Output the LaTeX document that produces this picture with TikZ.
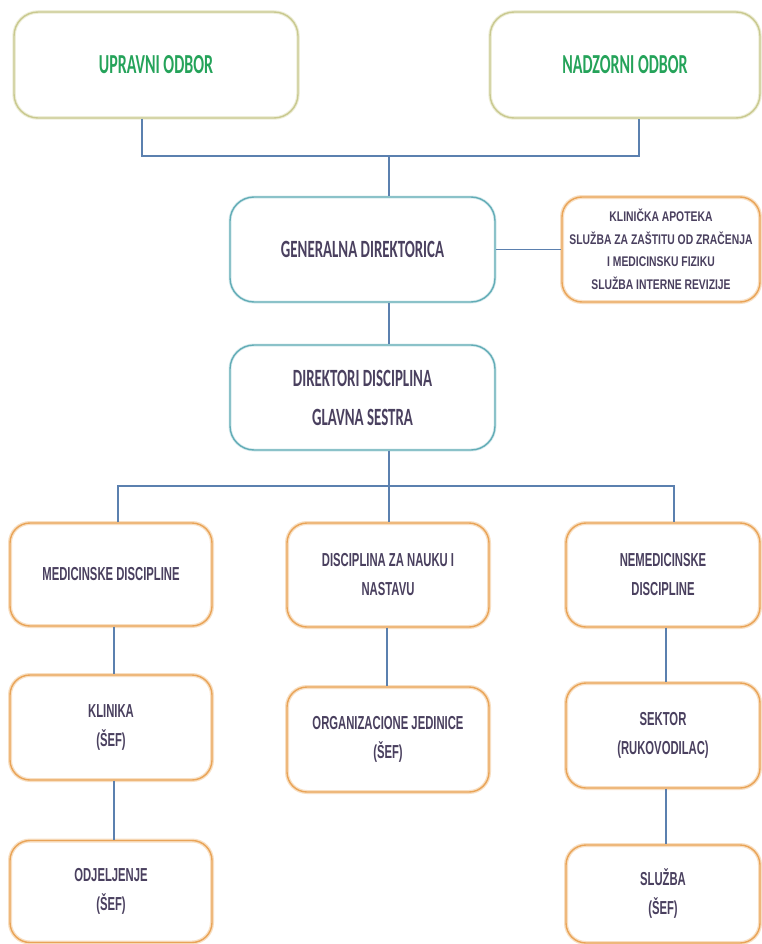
\documentclass[tikz,border=0pt]{standalone}
\usepackage{fontspec}
\newfontfamily\hdfont[FakeStretch=0.6]{Carlito}
\newfontfamily\tpfont[FakeStretch=0.58]{Carlito}
\newfontfamily\lofont[FakeStretch=0.6]{Liberation Sans}
\newfontfamily\sdfont[FakeStretch=0.74]{Liberation Sans}
\definecolor{olivebd}{HTML}{C9C98F}
\definecolor{olivegl}{HTML}{EEEED8}
\definecolor{tealbd}{HTML}{62ACB6}
\definecolor{tealgl}{HTML}{D8ECEF}
\definecolor{orangebd}{HTML}{E9A458}
\definecolor{orangegl}{HTML}{F8DFC2}
\definecolor{linec}{HTML}{5B80AF}
\definecolor{greentx}{HTML}{25A35A}
\definecolor{darktx}{HTML}{4A405F}
\begin{document}
\begin{tikzpicture}[x=1pt,y=-1pt,
  box/.style={rectangle,rounded corners=24pt,inner sep=0pt,align=center,line width=1.4pt},
  topbox/.style={box,draw=olivebd,preaction={draw=olivegl,line width=3.5pt},text=greentx,
     font=\tpfont\bfseries\fontsize{27.5}{30}\selectfont},
  tealbox/.style={box,draw=tealbd,preaction={draw=tealgl,line width=3pt},text=darktx,
     font=\hdfont\bfseries\fontsize{24.8}{39}\selectfont},
  orbox/.style={box,rounded corners=20pt,draw=orangebd,preaction={draw=orangegl,line width=4pt},text=darktx,
     font=\lofont\bfseries\fontsize{18.8}{29}\selectfont},
  conn/.style={draw=linec,line width=1.1pt}]
\useasboundingbox (0,0) rectangle (762,944);
\fill[white] (0,0) rectangle (762,944);

% top row
\node[topbox,minimum width=284pt,minimum height=106pt] (up) at (156,65) {UPRAVNI ODBOR};
\node[topbox,minimum width=270pt,minimum height=106pt] (nad) at (625,65) {NADZORNI ODBOR};

% directors
\node[tealbox,minimum width=265pt,minimum height=105pt] (gen) at (362.5,249.5) {GENERALNA DIREKTORICA};
\node[orbox,minimum width=198pt,minimum height=105pt,font=\sdfont\bfseries\fontsize{14}{22.5}\selectfont] (side) at (661,249.5)
  {KLINIČKA APOTEKA\\SLUŽBA ZA ZAŠTITU OD ZRAČENJA\\I MEDICINSKU FIZIKU\\SLUŽBA INTERNE REVIZIJE};
\node[tealbox,minimum width=265pt,minimum height=105pt] (dir) at (362.5,397.5) {DIREKTORI DISCIPLINA\\GLAVNA SESTRA};

% disciplines
\node[orbox,minimum width=202pt,minimum height=103pt] (med) at (111,574.5) {MEDICINSKE DISCIPLINE};
\node[orbox,minimum width=202pt,minimum height=104pt] (nauk) at (388,575) {DISCIPLINA ZA NAUKU I\\NASTAVU};
\node[orbox,minimum width=194pt,minimum height=104pt] (nemed) at (663,575) {NEMEDICINSKE\\DISCIPLINE};

% third row
\node[orbox,minimum width=202pt,minimum height=105pt] (klin) at (111,727.5) {KLINIKA\\(ŠEF)};
\node[orbox,minimum width=202pt,minimum height=105pt] (org) at (388,739.5) {ORGANIZACIONE JEDINICE\\(ŠEF)};
\node[orbox,minimum width=194pt,minimum height=105pt] (sek) at (663,735.5) {SEKTOR\\(RUKOVODILAC)};

% fourth row
\node[orbox,minimum width=202pt,minimum height=102pt] (odj) at (111,891.5) {ODJELJENJE\\(ŠEF)};
\node[orbox,minimum width=194pt,minimum height=98pt] (sluz) at (663,894) {\rule{0pt}{6pt}SLUŽBA\\(ŠEF)};

% connector coordinates
\coordinate (cup) at (142,156);
\coordinate (cnad) at (639,156);
\coordinate (cj) at (389,156);
\coordinate (bj) at (389,486);
\coordinate (bl) at (118,486);
\coordinate (br) at (674,486);
\coordinate (xl) at (114,0);
\coordinate (xm) at (387,0);
\coordinate (xr) at (666,0);

\draw[conn] (up.south -| cup) -- (cup) -- (cnad) -- (nad.south -| cnad);
\draw[conn] (cj) -- (gen.north -| cj);
\draw[conn] (gen.east) -- (side.west);
\draw[conn] (gen.south -| cj) -- (dir.north -| cj);
\draw[conn] (dir.south -| cj) -- (bj);
\draw[conn] (med.north -| bl) -- (bl) -- (br) -- (nemed.north -| br);
\draw[conn] (bj) -- (nauk.north -| bj);
\draw[conn] (med.south -| xl) -- (klin.north -| xl);
\draw[conn] (klin.south -| xl) -- (odj.north -| xl);
\draw[conn] (nauk.south -| xm) -- (org.north -| xm);
\draw[conn] (nemed.south -| xr) -- (sek.north -| xr);
\draw[conn] (sek.south -| xr) -- (sluz.north -| xr);
\end{tikzpicture}
\end{document}
